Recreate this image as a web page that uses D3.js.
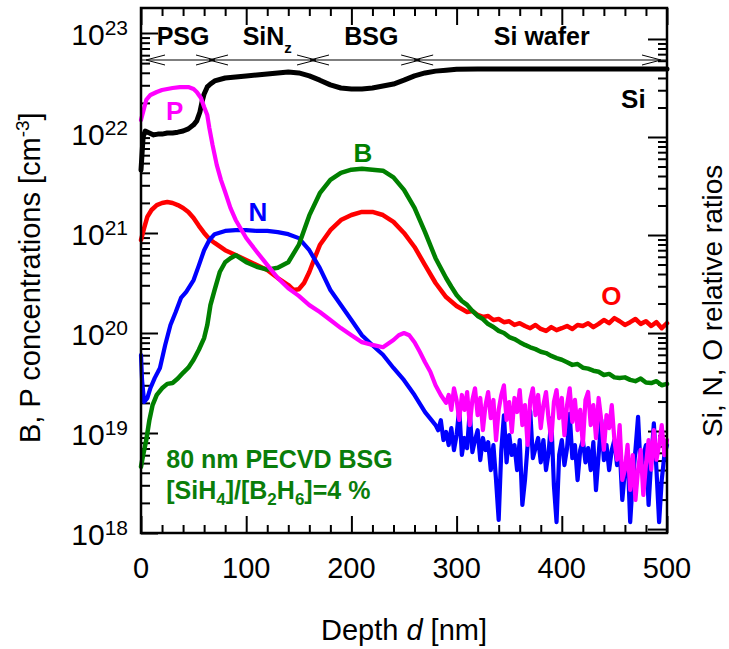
<!DOCTYPE html>
<html><head><meta charset="utf-8">
<script src="https://cdn.jsdelivr.net/npm/d3@7"></script>
<style>
html,body{margin:0;padding:0;background:#fff;}
svg{display:block;font-family:"Liberation Sans",Arial,sans-serif;}
</style></head>
<body><svg id="c" width="729" height="649"></svg>
<script>
// ---------- data ----------
const xTicks = [0, 100, 200, 300, 400, 500];
const xTickLabels = ["0", "100", "200", "300", "400", "500"];
const yTickExponents = ["18", "19", "20", "21", "22", "23"];
const yTickValues = [1e18, 1e19, 1e20, 1e21, 1e22, 1e23];

const layerBounds = [0, 67.5, 163.5, 262.5, 500];
const layerNames = ["PSG", "SiN", "BSG", "Si wafer"];
const layerLabelDepth = [40, 120, 219, 381];

// Si (right axis, relative ratio)
const siRatio = [[0,0.046],[2,0.100],[4,0.115],[8,0.110],[12,0.105],[16,0.107],[20,0.107],[25,0.110],[30,0.110],[35,0.112],[40,0.115],[45,0.121],[50,0.133],[53,0.146],[56,0.180],[58,0.228],[60,0.275],[63,0.324],[66,0.347],[70,0.373],[80,0.400],[90,0.41],[100,0.42],[110,0.43],[120,0.44],[130,0.45],[140,0.46],[150,0.45],[160,0.42],[170,0.38],[180,0.34],[190,0.316],[200,0.309],[210,0.309],[220,0.316],[230,0.331],[240,0.347],[250,0.38],[260,0.42],[270,0.45],[280,0.47],[290,0.48],[300,0.49],[320,0.494],[400,0.494],[500,0.494]];

// O (right axis, relative ratio)
const oRatio = [[0,8.9e-3],[3,1.18e-2],[6,1.53e-2],[10,1.8e-2],[15,2.02e-2],[20,2.12e-2],[25,2.17e-2],[30,2.12e-2],[35,2.02e-2],[40,1.89e-2],[45,1.72e-2],[50,1.49e-2],[55,1.24e-2],[60,1.05e-2],[65,9.1e-3],[70,8.3e-3],[80,7.0e-3],[90,6.25e-3],[100,5.56e-3],[110,4.94e-3],[120,4.4e-3],[130,3.64e-3],[140,3.09e-3],[145,2.75e-3],[150,2.8e-3],[155,3.24e-3],[160,4.19e-3],[165,5.8e-3],[170,7.9e-3],[180,1.12e-2],[190,1.42e-2],[200,1.6e-2],[210,1.72e-2],[220,1.72e-2],[230,1.6e-2],[240,1.36e-2],[250,1.05e-2],[260,7.55e-3],[270,4.94e-3],[280,3.24e-3],[290,2.33e-3],
[300,1.89e-3],[305,1.76e-3],[310,1.64e-3],[315,1.68e-3],[320,1.53e-3],[325,1.46e-3],[330,1.49e-3],[335,1.36e-3],[340,1.39e-3],[345,1.29e-3],[350,1.32e-3],[355,1.21e-3],[360,1.26e-3],[365,1.18e-3],[370,1.12e-3],[375,1.21e-3],[380,1.10e-3],[385,1.05e-3],[390,1.15e-3],[395,1.07e-3],[400,1.12e-3],[405,1.18e-3],[410,1.10e-3],[415,1.21e-3],[420,1.18e-3],[425,1.26e-3],[430,1.15e-3],[435,1.24e-3],[440,1.36e-3],[445,1.26e-3],[450,1.42e-3],[455,1.32e-3],[460,1.21e-3],[465,1.29e-3],[470,1.39e-3],[475,1.24e-3],[480,1.32e-3],[485,1.18e-3],[490,1.29e-3],[495,1.12e-3],[500,1.26e-3]];

// N (right axis, relative ratio)
const nRatio = [[0,5.97e-4],[1,3.3e-4],[3,1.98e-4],[6,2.17e-4],[9,2.75e-4],[13,3.47e-4],[18,4.4e-4],[23,7.55e-4],[28,1.21e-3],[33,1.64e-3],[38,2.28e-3],[43,2.63e-3],[50,3.47e-3],[55,4.9e-3],[60,7.0e-3],[65,8.9e-3],[70,1.02e-2],[80,1.1e-2],[90,1.12e-2],[100,1.12e-2],[110,1.1e-2],[120,1.1e-2],[130,1.07e-2],[140,1.02e-2],[150,9.3e-3],[160,7.0e-3],[170,4.6e-3],[180,2.75e-3],[190,1.93e-3],[200,1.36e-3],[210,9.5e-4],[220,7.5e-4],[230,6.0e-4],[240,4.4e-4],[250,3.3e-4],[260,2.33e-4],[270,1.56e-4],
[280,1.15e-4],[282.5,1.02e-4],[285,1.29e-4],[287.5,8.1e-5],[290,9.8e-5],[292.5,7.2e-5],[295,1.07e-4],[297.5,6.4e-5],[300,9.1e-5],[302.5,1.7e-4],[305,5.7e-5],[307.5,8.5e-5],[310,6.7e-5],[312.5,1.6e-4],[315,6.1e-5],[317.5,8.1e-5],[320,1.02e-4],[322.5,5.06e-5],[325,8.5e-5],[327.5,6.4e-5],[330,7.7e-5],[332.5,4.0e-5],[335,7.2e-5],[337.5,3.16e-5],[340,1.24e-5],[342.5,6.4e-5],[345,1.45e-4],[347.5,4.8e-5],[350,9.1e-5],[352.5,5.7e-5],[355,7.2e-5],[357.5,4.0e-5],[360,8.1e-5],[362.5,1.76e-5],[365,3.16e-5],[367.5,7.2e-5],[370,1.6e-4],[372.5,5.3e-5],[375,6.7e-5],[377.5,8.5e-5],[380,4.8e-5],[382.5,8.1e-5],[385,4.0e-5],[387.5,6.1e-5],[390,1.35e-4],[392.5,2.8e-5],[395,1.18e-5],[397.5,5.7e-5],[400,8.1e-5],[402.5,4.5e-5],[405,6.7e-5],[407.5,1.5e-4],[410,5.3e-5],[412.5,7.2e-5],[415,3.16e-5],[417.5,6.4e-5],[420,8.1e-5],[422.5,4.8e-5],[425,6.7e-5],[427.5,4.0e-5],[430,7.7e-5],[432.5,2.5e-5],[435,5.7e-5],[437.5,1.3e-4],[440,5.06e-5],[442.5,7.2e-5],[445,4.0e-5],[447.5,6.4e-5],[450,8.1e-5],[452.5,4.5e-5],[455,6.7e-5],[457.5,1.98e-5],[460,4.0e-5],[462.5,6.1e-5],[465,1.18e-5],[467.5,3.16e-5],[470,6.4e-5],[472.5,1.4e-4],[475,4.0e-5],[477.5,5.7e-5],[480,7.2e-5],[482.5,1.76e-5],[485,5.06e-5],[487.5,1.2e-4],[490,4.0e-5],[492.5,1.18e-5],[495,3.16e-5],[497.5,5.7e-5],[500,7.2e-5]];

// B (left axis, cm^-3)
const bConc = [[0,4.6e18],[2,6.0e18],[5,8.5e18],[8,1.35e19],[11,1.9e19],[15,2.4e19],[20,2.8e19],[25,3.1e19],[30,3.16e19],[35,3.5e19],[40,4.0e19],[45,4.5e19],[50,5.4e19],[55,6.8e19],[60,8.9e19],[63,1.2e20],[66,1.9e20],[70,2.7e20],[75,4.1e20],[80,5.1e20],[85,5.6e20],[90,6.0e20],[100,5.1e20],[110,4.6e20],[120,4.3e20],[130,4.5e20],[140,5.1e20],[150,7.6e20],[160,1.5e21],[170,2.5e21],[180,3.4e21],[190,4.0e21],[200,4.3e21],[210,4.4e21],[220,4.3e21],[230,4.2e21],[240,3.6e21],[250,2.7e21],[260,1.78e21],[270,1.02e21],[280,5.6e20],[290,3.55e20],[295,2.9e20],
[300,2.4e20],[305,2.09e20],[310,1.91e20],[315,1.66e20],[320,1.48e20],[325,1.38e20],[330,1.23e20],[335,1.15e20],[340,1.05e20],[345,1.0e20],[350,9.1e19],[355,8.7e19],[360,8.1e19],[365,7.6e19],[370,7.2e19],[375,6.9e19],[380,6.5e19],[385,6.3e19],[390,5.9e19],[395,5.6e19],[400,5.4e19],[405,5.1e19],[410,4.8e19],[415,4.9e19],[420,4.5e19],[425,4.4e19],[430,4.2e19],[435,4.1e19],[440,3.8e19],[445,3.9e19],[450,3.6e19],[455,3.55e19],[460,3.6e19],[465,3.4e19],[470,3.3e19],[475,3.5e19],[480,3.2e19],[485,3.16e19],[490,3.3e19],[495,3.0e19],[500,3.1e19]];

// P (left axis, cm^-3)
const pConc = [[0,1.35e22],[2,1.62e22],[5,2.14e22],[9,2.4e22],[15,2.57e22],[20,2.69e22],[30,2.82e22],[37,2.88e22],[45,2.88e22],[50,2.75e22],[53,2.57e22],[57,2.24e22],[60,1.82e22],[63,1.51e22],[65,1.12e22],[68,7.6e21],[72,4.8e21],[76,3.4e21],[80,2.57e21],[85,1.78e21],[90,1.35e21],[100,8.9e20],[110,6.5e20],[120,4.8e20],[130,3.55e20],[140,2.8e20],[150,2.35e20],[160,1.9e20],[170,1.62e20],[180,1.35e20],[190,1.12e20],[200,9.5e19],[210,8.1e19],[220,7.6e19],[230,7.2e19],[240,8.5e19],[245,9.5e19],[250,1e20],[255,9.5e19],[260,8.1e19],[265,6.5e19],[270,5.1e19],[275,4.1e19],[280,3.0e19],[285,2.4e19],
[290,2.0e19],[292.5,2.4e19],[295,1.7e19],[297.5,2.8e19],[300,2.14e19],[302.5,1.35e19],[305,2.4e19],[307.5,1.7e19],[310,2.57e19],[312.5,1.2e19],[315,2.14e19],[317.5,2.8e19],[320,1.51e19],[322.5,2.24e19],[325,1.07e19],[327.5,1.9e19],[330,2.57e19],[332.5,1.41e19],[335,2.14e19],[337.5,8.5e18],[340,1.7e19],[342.5,2.4e19],[345,3.0e19],[347.5,1.35e19],[350,2.04e19],[352.5,1.02e19],[355,2.24e19],[357.5,1.62e19],[360,2.69e19],[362.5,1.2e19],[365,1.9e19],[367.5,7.6e18],[370,2.14e19],[372.5,2.8e19],[375,1.51e19],[377.5,2.4e19],[380,1.12e19],[382.5,1.9e19],[385,2.57e19],[387.5,1.35e19],[390,8.5e18],[392.5,2.04e19],[395,2.69e19],[397.5,1.41e19],[400,2.24e19],[402.5,9.5e18],[405,1.9e19],[407.5,2.8e19],[410,1.29e19],[412.5,2.14e19],[415,1.07e19],[417.5,1.7e19],[420,7.6e18],[422.5,2.14e19],[425,2.57e19],[427.5,1.2e19],[430,1.9e19],[432.5,8.9e18],[435,2.24e19],[437.5,1.35e19],[440,6.8e18],[442.5,1.51e19],[445,1.12e19],[447.5,1.9e19],[450,8.5e18],[452.5,5.4e18],[455,1.2e19],[457.5,3.4e18],[460,4.3e18],[462.5,7.6e18],[465,2.7e18],[467.5,6.0e18],[470,2.14e18],[472.5,4.3e18],[475,6.8e18],[477.5,2.4e18],[480,4.8e18],[482.5,8.5e18],[485,4.3e18],[487.5,1.07e19],[490,5.4e18],[492.5,7.6e18],[495,1.2e19],[497.5,6.0e18],[500,8.5e18]];

// ---------- layout ----------
const L = 141, R = 667, T = 8, B = 533;
const svg = d3.select("#c");
const x = d3.scaleLinear().domain([0, 500]).range([L, R]);
const yL = d3.scaleLog().domain([1e18, Math.pow(10, 23.25)]).range([B, T]);
const yR = d3.scaleLog().domain([Math.pow(10, -5.04), Math.pow(10, 0.316)]).range([B, T]);

function logMinor(scale) {
  const [a, b] = scale.domain();
  const out = [];
  for (let k = Math.floor(Math.log10(a)); k <= Math.ceil(Math.log10(b)); k++) {
    for (let m = 2; m <= 9; m++) {
      const v = m * Math.pow(10, k);
      if (v > a && v < b && scale(v) > T + 4) out.push(v);
    }
  }
  return out;
}
function logMajor(scale) {
  const [a, b] = scale.domain();
  const out = [];
  for (let k = Math.floor(Math.log10(a)); k <= Math.ceil(Math.log10(b)); k++) {
    const v = Math.pow(10, k);
    if (v >= a && v <= b) out.push(v);
  }
  return out;
}

const xMinor = d3.range(0, 501, 20).filter(v => xTicks.indexOf(v) < 0);
const axesG = svg.append("g");
function styleAxis(g) {
  g.select(".domain").remove();
  g.selectAll(".tick line").attr("stroke", "#000").attr("stroke-width", 2);
  g.selectAll(".tick text").remove();
}
axesG.append("g").attr("transform", `translate(0,${B})`).call(d3.axisBottom(x).tickValues(xTicks).tickSize(-17)).call(styleAxis);
axesG.append("g").attr("transform", `translate(0,${B})`).call(d3.axisBottom(x).tickValues(xMinor).tickSize(-8)).call(styleAxis);
axesG.append("g").attr("transform", `translate(0,${T})`).call(d3.axisTop(x).tickValues(xTicks).tickSize(-17)).call(styleAxis);
axesG.append("g").attr("transform", `translate(0,${T})`).call(d3.axisTop(x).tickValues(xMinor).tickSize(-8)).call(styleAxis);
axesG.append("g").attr("transform", `translate(${L},0)`).call(d3.axisLeft(yL).tickValues(logMajor(yL)).tickSize(-17)).call(styleAxis);
axesG.append("g").attr("transform", `translate(${L},0)`).call(d3.axisLeft(yL).tickValues(logMinor(yL)).tickSize(-9)).call(styleAxis);
axesG.append("g").attr("transform", `translate(${R},0)`).call(d3.axisRight(yR).tickValues(logMajor(yR)).tickSize(-19)).call(styleAxis);
axesG.append("g").attr("transform", `translate(${R},0)`).call(d3.axisRight(yR).tickValues(logMinor(yR)).tickSize(-9)).call(styleAxis);

svg.append("g").selectAll("text").data(xTicks).join("text")
  .attr("x", d => x(d)).attr("y", 578).attr("text-anchor", "middle")
  .attr("font-size", 29).attr("fill", "#000").text((d, i) => xTickLabels[i]);

const yl = svg.append("g").selectAll("text").data(yTickValues).join("text")
  .attr("x", 128).attr("y", d => yL(d) + 12).attr("text-anchor", "end")
  .attr("font-size", 30).attr("fill", "#000");
yl.append("tspan").text("10");
yl.append("tspan").attr("font-size", 21).attr("dy", -10).text((d, i) => yTickExponents[i]);

const xt = svg.append("text").attr("x", x(250)).attr("y", 640).attr("text-anchor", "middle")
  .attr("font-size", 29).attr("fill", "#000");
xt.append("tspan").text("Depth ");
xt.append("tspan").attr("font-style", "italic").text("d");
xt.append("tspan").text(" [nm]");

const ytl = svg.append("text").attr("transform", "translate(40,443) rotate(-90)")
  .attr("text-anchor", "start").attr("font-size", 29).attr("fill", "#000");
ytl.append("tspan").text("B, P concentrations [cm");
ytl.append("tspan").attr("font-size", 19).attr("dy", -11).text("-3");
ytl.append("tspan").attr("dy", 11).text("]");

svg.append("text").attr("transform", "translate(722,437) rotate(-90)")
  .attr("text-anchor", "start").attr("font-size", 28).attr("fill", "#000")
  .text("Si, N, O relative ratios");

// layer indicator line and arrows
const layerY = 60;
const lg = svg.append("g").attr("stroke", "#000").attr("fill", "none");
lg.append("line").attr("x1", L).attr("x2", R).attr("y1", layerY).attr("y2", layerY).attr("stroke-width", 1.2);
const arrowPath = [];
layerBounds.forEach((b, i) => {
  const px = x(b);
  if (i > 0) {
    const tip = i === layerBounds.length - 1 ? px - 6 : px + 3;
    arrowPath.push(`M${tip - 19},${layerY - 5}L${tip},${layerY}L${tip - 19},${layerY + 5}`);
  }
  if (i < layerBounds.length - 1) {
    const tip = i === 0 ? px + 5 : px - 3;
    arrowPath.push(`M${tip + 19},${layerY - 5}L${tip},${layerY}L${tip + 19},${layerY + 5}`);
  }
});
lg.append("path").attr("d", arrowPath.join("")).attr("stroke-width", 1);

const ll = svg.append("g").selectAll("text").data(layerNames).join("text")
  .attr("x", (d, i) => x(layerLabelDepth[i])).attr("y", 45).attr("text-anchor", "middle")
  .attr("font-size", 25).attr("font-weight", "bold").attr("fill", "#000");
ll.append("tspan").text(d => d);
ll.filter(d => d === "SiN").append("tspan").attr("font-size", 15).attr("dy", 8).text("z");

// ---------- data lines ----------
const lineL = d3.line().x(d => x(d[0])).y(d => yL(d[1]));
const lineR = d3.line().x(d => x(d[0])).y(d => yR(d[1]));
const plot = svg.append("g").attr("fill", "none").attr("stroke-linejoin", "round").attr("stroke-linecap", "round");
plot.append("path").attr("d", lineR(siRatio)).attr("stroke", "#000").attr("stroke-width", 5);
plot.append("path").attr("d", lineR(oRatio)).attr("stroke", "#ff0000").attr("stroke-width", 4.5);
plot.append("path").attr("d", lineR(nRatio)).attr("stroke", "#0000ff").attr("stroke-width", 4.2);
plot.append("path").attr("d", lineL(bConc)).attr("stroke", "#008000").attr("stroke-width", 4.5);
plot.append("path").attr("d", lineL(pConc)).attr("stroke", "#ff00ff").attr("stroke-width", 4.2);

// series labels (positions in data units of the left axis)
const seriesLabels = [
  {t: "P", d: 32, v: 1.35e22, c: "#ff00ff"},
  {t: "N", d: 111, v: 1.32e21, c: "#0000ff"},
  {t: "B", d: 211, v: 5.1e21, c: "#008000"},
  {t: "O", d: 447, v: 1.9e20, c: "#ff0000"},
  {t: "Si", d: 468, v: 1.78e22, c: "#000"}
];
svg.append("g").selectAll("text").data(seriesLabels).join("text")
  .attr("x", d => x(d.d)).attr("y", d => yL(d.v)).attr("text-anchor", "middle")
  .attr("font-size", 26).attr("font-weight", "bold").attr("fill", d => d.c).text(d => d.t);

// annotation
const ann = svg.append("g").attr("fill", "#0a7d0a").attr("font-weight", "bold").attr("font-size", 25);
ann.append("text").attr("x", x(24)).attr("y", 468).text("80 nm PECVD BSG");
const a2 = ann.append("text").attr("x", x(24)).attr("y", 499);
a2.append("tspan").text("[SiH");
a2.append("tspan").attr("font-size", 17).attr("dy", 6).text("4");
a2.append("tspan").attr("dy", -6).text("]/[B");
a2.append("tspan").attr("font-size", 17).attr("dy", 6).text("2");
a2.append("tspan").attr("dy", -6).text("H");
a2.append("tspan").attr("font-size", 17).attr("dy", 6).text("6");
a2.append("tspan").attr("dy", -6).text("]=4 %");

svg.append("rect").attr("x", L).attr("y", T).attr("width", R - L).attr("height", B - T)
  .attr("fill", "none").attr("stroke", "#000").attr("stroke-width", 2.5);
</script></body></html>
